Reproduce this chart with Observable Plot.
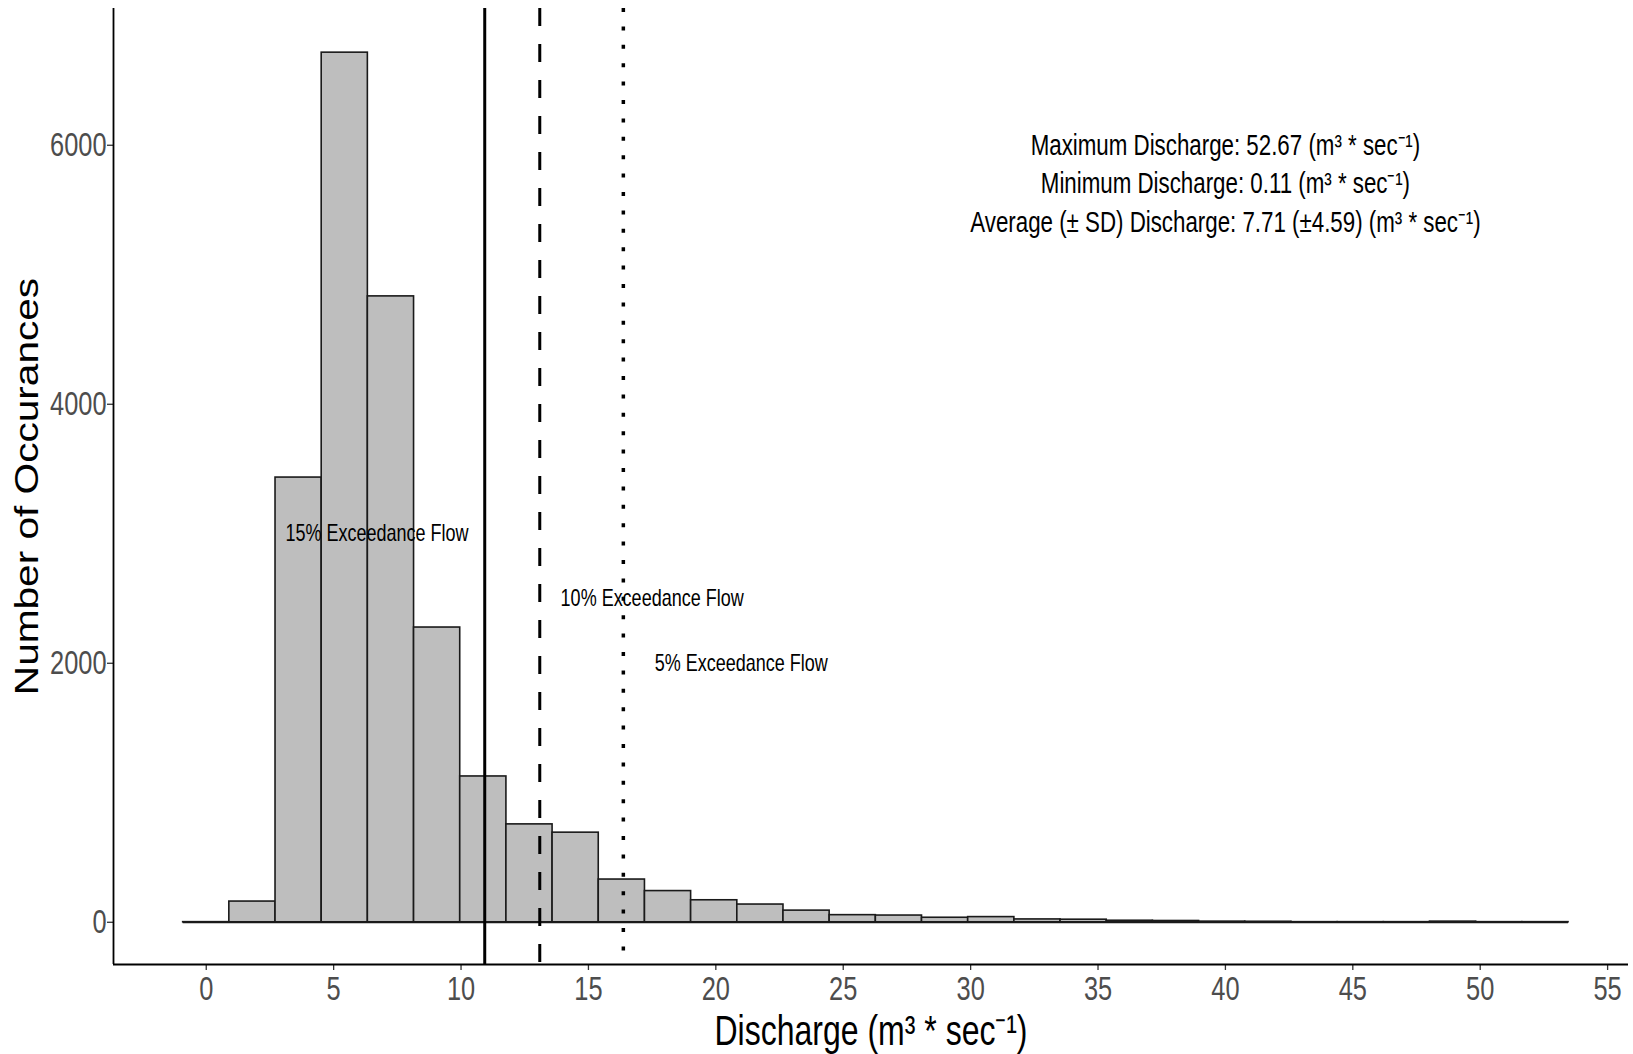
<!DOCTYPE html>
<html>
<head>
<meta charset="utf-8">
<script src="https://cdn.jsdelivr.net/npm/d3@7"></script>
<script src="https://cdn.jsdelivr.net/npm/@observablehq/plot@0.6"></script>
<style>
html, body { margin: 0; padding: 0; background: #fff; overflow: hidden; }
</style>
</head>
<body>
<div id="chart"></div>
<script>
// ---- data ----
const binEdges = [-0.906, 0.906, 2.719, 4.531, 6.343, 8.156, 9.968, 11.781, 13.593, 15.405,
  17.218, 19.030, 20.843, 22.655, 24.467, 26.280, 28.092, 29.904, 31.717, 33.529,
  35.342, 37.154, 38.967, 40.779, 42.591, 44.404, 46.216, 48.029, 49.841, 51.654, 53.466];
const binCounts = [1, 160, 3434, 6715, 4833, 2276, 1126, 756, 692, 330,
  241, 170, 137, 90, 55, 52, 35, 40, 22, 20,
  12, 10, 5, 4, 1, 1, 1, 5, 1, 1];
const exceedanceLevels = ["15%", "10%", "5%"];
const exceedanceFlows = [10.93, 13.09, 16.37];
const exceedanceLabelX = [6.7, 17.5, 21.0];
const exceedanceLabelY = [3000, 2500, 2000];
const statLines = [
  "Maximum Discharge: 52.67 (m³ * sec⁻¹)",
  "Minimum Discharge: 0.11 (m³ * sec⁻¹)",
  "Average (± SD) Discharge: 7.71 (±4.59) (m³ * sec⁻¹)"
];
const statX = 40;
const statY = [6000, 5700, 5400];
const xTicks = [0, 5, 10, 15, 20, 25, 30, 35, 40, 45, 50, 55];
const yTicks = [0, 2000, 4000, 6000];
const xDomain = [-3.64, 55.82];
const yDomain = [-326, 7056];
const xTitle = "Discharge (m³ * sec⁻¹)";
const yTitle = "Number of Occurances";

// ---- tables built from the arrays ----
const bins = binCounts.map((c, i) => ({x1: binEdges[i], x2: binEdges[i + 1], count: c}));
const exLabels = exceedanceLevels.map((lvl, i) => ({label: `${lvl} Exceedance Flow`, x: exceedanceLabelX[i], y: exceedanceLabelY[i]}));
const stats = statLines.map((t, i) => ({t, y: statY[i]}));

const font = "'Liberation Sans', Arial, Helvetica, sans-serif";

const plot = Plot.plot({
  width: 1633,
  height: 1054,
  marginLeft: 113,
  marginRight: 5,
  marginTop: 8,
  marginBottom: 90,
  style: {fontFamily: font, background: "#fff", color: "#000"},
  x: {domain: xDomain, label: null},
  y: {domain: yDomain, label: null},
  marks: [
    Plot.rectY(bins, {x1: "x1", x2: "x2", y: "count", fill: "#BEBEBE", stroke: "#1a1a1a", strokeWidth: 1.6, inset: 0}),
    Plot.ruleY([0], {x1: binEdges[0], x2: binEdges[binEdges.length - 1], stroke: "#1a1a1a", strokeWidth: 1.8}),
    Plot.ruleX([exceedanceFlows[0]], {stroke: "#000", strokeWidth: 3}),
    Plot.ruleX([exceedanceFlows[1]], {stroke: "#000", strokeWidth: 3, strokeDasharray: "18,18"}),
    Plot.ruleX([exceedanceFlows[2]], {stroke: "#000", strokeWidth: 3.5, strokeDasharray: "4,14.4"}),
    Plot.text(exLabels, {x: "x", y: "y", text: "label", fontSize: 23.4, fill: "#000", lineAnchor: "middle", ariaDescription: "exceed"}),
    Plot.text(stats, {x: () => statX, y: "y", text: "t", fontSize: 29, fill: "#000", lineAnchor: "middle", ariaDescription: "stats"}),
    Plot.axisX({ticks: xTicks, tickFormat: d => String(d), tickSize: 6, tickPadding: 6, fontSize: 33, fill: "#4D4D4D", stroke: "#333", strokeWidth: 1.3, label: null}),
    Plot.axisY({ticks: yTicks, tickFormat: d => String(d), tickSize: 6, tickPadding: 1, fontSize: 33, fill: "#4D4D4D", stroke: "#333", strokeWidth: 1.3, label: null}),
    Plot.ruleX([xDomain[0]], {stroke: "#000", strokeWidth: 1.8}),
    Plot.ruleY([yDomain[0]], {stroke: "#000", strokeWidth: 2}),
    Plot.text([xTitle], {frameAnchor: "bottom", dy: 67, lineAnchor: "middle", fontSize: 41.6, fill: "#000", ariaDescription: "xtitle"}),
    Plot.text([yTitle], {frameAnchor: "left", dx: -86, rotate: -90, lineAnchor: "middle", fontSize: 33, fill: "#000", ariaDescription: "ytitle"})
  ]
});

document.getElementById("chart").append(plot);

// The reference's lettering is tall and narrow: squeeze horizontal text, stretch the rotated title.
function squeeze(sel, f) {
  plot.querySelectorAll(sel).forEach(t => {
    const L = t.getComputedTextLength();
    t.setAttribute("textLength", (L * f).toFixed(2));
    t.setAttribute("lengthAdjust", "spacingAndGlyphs");
  });
}
const k = 1 / 1.3;
squeeze('g[aria-label="x-axis tick label"] text', k);
squeeze('g[aria-label="y-axis tick label"] text', k);
squeeze('g[aria-description="exceed"] text', k);
squeeze('g[aria-description="stats"] text', k);
squeeze('g[aria-description="xtitle"] text', k);

// stretch the rotated y title along its own direction, keeping it centred on its anchor
plot.querySelectorAll('g[aria-description="ytitle"] text').forEach(t => {
  const L = t.getComputedTextLength() * 1.23;
  t.setAttribute("text-anchor", "start");
  t.setAttribute("x", (-L / 2).toFixed(2));
  t.setAttribute("textLength", L.toFixed(2));
  t.setAttribute("lengthAdjust", "spacingAndGlyphs");
});
</script>
</body>
</html>
